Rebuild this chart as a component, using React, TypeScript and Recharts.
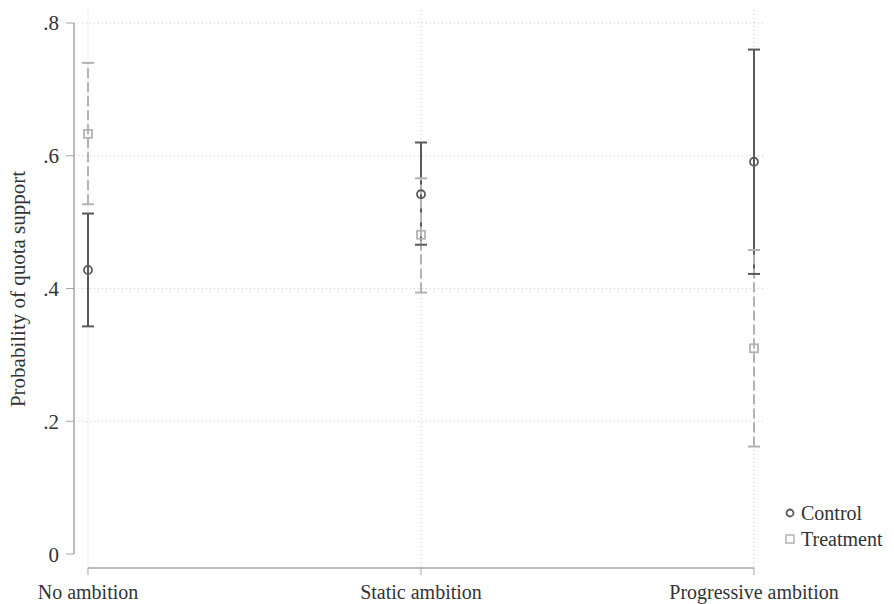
import React from 'react';
import {
    ComposedChart,
    Scatter,
    ErrorBar,
    XAxis,
    YAxis,
    CartesianGrid,
    ReferenceLine,
} from 'recharts';

const categories = ['No ambition', 'Static ambition', 'Progressive ambition'];
const yTicks = [0, 0.2, 0.4, 0.6, 0.8];

// point estimates and 95% intervals
const controlEst = [0.428, 0.542, 0.591];
const controlLo = [0.343, 0.466, 0.422];
const controlHi = [0.513, 0.62, 0.76];

const treatEst = [0.633, 0.481, 0.31];
const treatLo = [0.527, 0.394, 0.162];
const treatHi = [0.74, 0.566, 0.458];

const CONTROL = '#595959';
const TREAT = '#b3b3b3';
const AXIS = '#a6a6a6';
const FONT = '"Liberation Serif", "DejaVu Serif", serif';

const X_DOMAIN: [number, number] = [-0.042, 2.033];
const Y_DOMAIN: [number, number] = [-0.021, 0.8196];

const points = (est: number[], lo: number[], hi: number[]) =>
    est.map((v, i) => ({ x: i, y: v, err: [v - lo[i], hi[i] - v] }));
const caps = (vals: number[]) => vals.map((v, i) => ({ x: i, y: v }));

const capShape = (color: string) => (props: any) => {
    const { cx, cy } = props;
    return <line x1={cx - 6} x2={cx + 6} y1={cy} y2={cy} stroke={color} strokeWidth={2} />;
};

const circleShape = (props: any) => (
    <circle cx={props.cx} cy={props.cy} r={4} fill="none" stroke={CONTROL} strokeWidth={1.8} />
);

const squareShape = (props: any) => (
    <rect x={props.cx - 4} y={props.cy - 4} width={8} height={8} fill="none" stroke={TREAT} strokeWidth={1.8} />
);

const fmtY = (v: number) => (v === 0 ? '0' : v.toFixed(1).replace(/^0/, ''));

const YLabel = (props: any) => {
    const vb = props.viewBox;
    const cy = vb.y + vb.height / 2;
    return (
        <text
            x={25}
            y={cy}
            transform={`rotate(-90, 25, ${cy})`}
            textAnchor="middle"
            fontSize={21}
            fontFamily={FONT}
            fill="#333"
        >
            Probability of quota support
        </text>
    );
};

export default function App() {
    const controlPts = points(controlEst, controlLo, controlHi);
    const treatPts = points(treatEst, treatLo, treatHi);

    // shifted left by the body margin so the rotated label is not clipped
    return (
        <div style={{ position: 'relative', width: 894, height: 596, marginLeft: -8, fontFamily: FONT }}>
            <ComposedChart
                width={894}
                height={596}
                margin={{ top: 2, right: 129, bottom: 6, left: 18 }}
            >
                <CartesianGrid
                    stroke="#c9c9c9"
                    strokeDasharray="1 3"
                    horizontalValues={[0.2, 0.4, 0.6, 0.8]}
                    verticalValues={[0, 1, 2]}
                />
                <XAxis
                    type="number"
                    dataKey="x"
                    domain={X_DOMAIN}
                    allowDataOverflow
                    ticks={[0, 1, 2]}
                    tickFormatter={(v: number) => categories[v]}
                    axisLine={false}
                    tickLine={{ stroke: AXIS }}
                    tickSize={7}
                    tickMargin={10}
                    height={30}
                    interval={0}
                    tick={{ fontSize: 20, fill: '#333', fontFamily: FONT }}
                />
                <YAxis
                    type="number"
                    dataKey="y"
                    domain={Y_DOMAIN}
                    allowDataOverflow
                    ticks={yTicks}
                    tickFormatter={fmtY}
                    axisLine={false}
                    tickLine={{ stroke: AXIS }}
                    tickSize={8}
                    tickMargin={7}
                    width={56}
                    interval={0}
                    tick={{ fontSize: 21, fill: '#333', fontFamily: FONT }}
                    label={<YLabel />}
                />
                <ReferenceLine
                    segment={[{ x: X_DOMAIN[0], y: 0 }, { x: X_DOMAIN[0], y: 0.8 }]}
                    stroke={AXIS}
                    strokeWidth={1.5}
                    ifOverflow="visible"
                />
                <ReferenceLine
                    segment={[{ x: 0, y: Y_DOMAIN[0] }, { x: 2, y: Y_DOMAIN[0] }]}
                    stroke={AXIS}
                    strokeWidth={1.5}
                    ifOverflow="visible"
                />

                {/* Control */}
                <Scatter data={controlPts} shape={circleShape} isAnimationActive={false} name="Control">
                    <ErrorBar dataKey="err" direction="y" width={0} stroke={CONTROL} strokeWidth={2} />
                </Scatter>
                <Scatter data={caps(controlLo)} shape={capShape(CONTROL)} isAnimationActive={false} legendType="none" />
                <Scatter data={caps(controlHi)} shape={capShape(CONTROL)} isAnimationActive={false} legendType="none" />

                {/* Treatment */}
                <Scatter data={treatPts} shape={squareShape} isAnimationActive={false} name="Treatment">
                    <ErrorBar
                        dataKey="err"
                        direction="y"
                        width={0}
                        stroke={TREAT}
                        strokeWidth={2}
                        strokeDasharray="10 4"
                    />
                </Scatter>
                <Scatter data={caps(treatLo)} shape={capShape(TREAT)} isAnimationActive={false} legendType="none" />
                <Scatter data={caps(treatHi)} shape={capShape(TREAT)} isAnimationActive={false} legendType="none" />
            </ComposedChart>

            <div style={{ position: 'absolute', left: 784, top: 492, fontSize: 20, lineHeight: '26px', color: '#333' }}>
                <div style={{ display: 'flex', alignItems: 'center' }}>
                    <svg width={12} height={12} style={{ marginRight: 5 }}>
                        <circle cx={6} cy={6} r={3.5} fill="none" stroke={CONTROL} strokeWidth={1.8} />
                    </svg>
                    Control
                </div>
                <div style={{ display: 'flex', alignItems: 'center' }}>
                    <svg width={12} height={12} style={{ marginRight: 5 }}>
                        <rect x={2} y={2} width={8} height={8} fill="none" stroke={TREAT} strokeWidth={1.5} />
                    </svg>
                    Treatment
                </div>
            </div>
        </div>
    );
}
